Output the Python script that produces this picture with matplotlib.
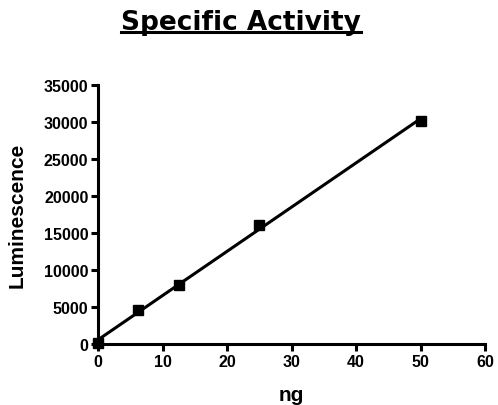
import numpy as np
import matplotlib.pyplot as plt
from matplotlib.lines import Line2D

ng = [0, 6.25, 12.5, 25, 50]
lum = [100, 4600, 8000, 16100, 30150]

xticks = [0, 10, 20, 30, 40, 50, 60]
yticks = [0, 5000, 10000, 15000, 20000, 25000, 30000, 35000]

fig = plt.figure(figsize=(4.98, 4.06), dpi=100)
ax = fig.add_axes([0.197, 0.150, 0.777, 0.638])

# linear fit line over the data range
k, b = np.polyfit(ng, lum, 1)
xf = np.array([min(ng), max(ng)])
ax.plot(xf, k * xf + b, color='black', linewidth=2.2, zorder=2)
ax.plot(ng, lum, linestyle='none', marker='s', markersize=7, color='black', zorder=3, clip_on=False)

ax.set_xlim(0, 60)
ax.set_ylim(0, 35000)
ax.set_xticks(xticks)
ax.set_yticks(yticks)
for s in ['top', 'right']:
    ax.spines[s].set_visible(False)
for s in ['left', 'bottom']:
    ax.spines[s].set_linewidth(2.2)
ax.tick_params(direction='out', length=5, width=2.2, pad=2)
for lab in ax.get_xticklabels() + ax.get_yticklabels():
    lab.set_fontfamily('Liberation Sans')
    lab.set_fontweight('bold')
    lab.set_fontsize(11.5)

ax.set_xlabel('ng', fontfamily='Liberation Sans', fontweight='bold', fontsize=15, labelpad=12)
ax.set_ylabel('Luminescence', fontfamily='Liberation Sans', fontweight='bold', fontsize=15, labelpad=12)

t = fig.text(0.484, 0.926, 'Specific Activity', ha='center', va='baseline',
             fontfamily='DejaVu Sans', fontweight='bold', fontsize=19)
fig.canvas.draw()
bb = t.get_window_extent().transformed(fig.transFigure.inverted())
fig.add_artist(Line2D([bb.x0, bb.x1], [0.9175, 0.9175], color='black', linewidth=2.2, transform=fig.transFigure))

fig.savefig('out.png', dpi=100)
